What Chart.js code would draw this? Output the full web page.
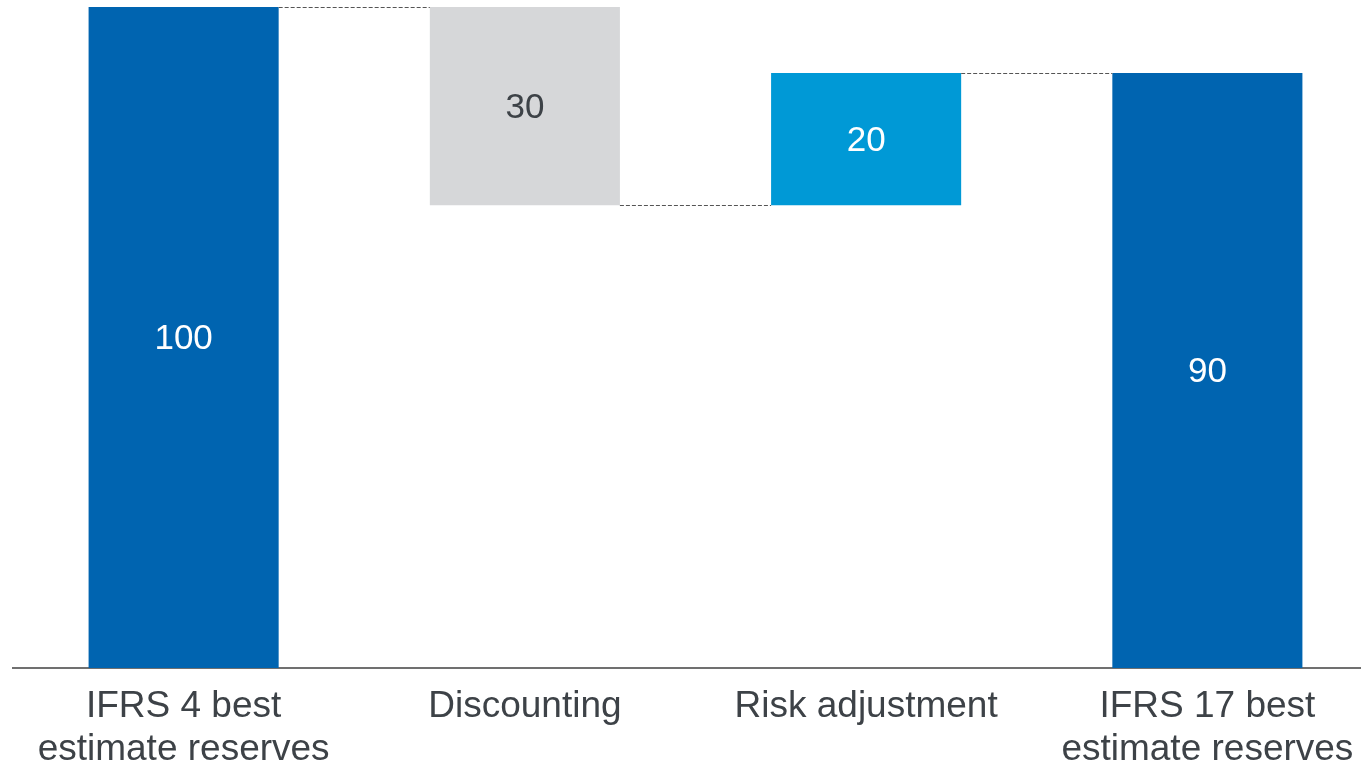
<!DOCTYPE html>
<html>
<head>
<meta charset="utf-8">
<script src="https://cdn.jsdelivr.net/npm/chart.js@4.4.1/dist/chart.umd.min.js"></script>
<style>
  html, body { margin: 0; padding: 0; background: #fff; overflow: hidden; }
  #wrap { position: relative; width: 1378px; height: 789px; }
</style>
</head>
<body>
<div id="wrap"><canvas id="c"></canvas></div>
<script>
// Waterfall: opening reserve, adjustments, closing reserve
const categories = [
  ['IFRS 4 best', 'estimate reserves'],
  ['Discounting'],
  ['Risk adjustment'],
  ['IFRS 17 best', 'estimate reserves']
];
const steps = [100, -30, 20, 90];          // first and last are totals
const isTotal = [true, false, false, true];
const barColors = ['#0064b0', '#d6d7d9', '#0099d6', '#0064b0'];
const labelColors = ['#ffffff', '#3d4247', '#ffffff', '#ffffff'];

// Build floating ranges and running levels
const ranges = [];
const levels = [];
let running = 0;
steps.forEach((v, i) => {
  if (isTotal[i]) {
    ranges.push([0, v]);
    running = v;
  } else {
    ranges.push([running, running + v]);
    running += v;
  }
  levels.push(running);
});

const FONT = "'Liberation Sans', Arial, sans-serif";

const valueLabels = {
  id: 'valueLabels',
  afterDatasetsDraw(chart) {
    const ctx = chart.ctx;
    const meta = chart.getDatasetMeta(0);
    ctx.save();
    ctx.font = '35px ' + FONT;
    ctx.textAlign = 'center';
    ctx.textBaseline = 'middle';
    meta.data.forEach((bar, i) => {
      const p = bar.getProps(['x', 'y', 'base'], true);
      ctx.fillStyle = labelColors[i];
      ctx.fillText(String(Math.abs(steps[i])), p.x, (p.y + p.base) / 2 + 2);
    });
    ctx.restore();
  }
};

const connectors = {
  id: 'connectors',
  afterDatasetsDraw(chart) {
    const ctx = chart.ctx;
    const meta = chart.getDatasetMeta(0);
    const y = chart.scales.y;
    ctx.save();
    ctx.strokeStyle = '#555555';
    ctx.lineWidth = 1;
    ctx.setLineDash([4, 2]);
    for (let i = 0; i < meta.data.length - 1; i++) {
      const a = meta.data[i].getProps(['x', 'width'], true);
      const b = meta.data[i + 1].getProps(['x', 'width'], true);
      const yy = Math.round(y.getPixelForValue(levels[i])) + 0.5;
      ctx.beginPath();
      ctx.moveTo(a.x + a.width / 2, yy);
      ctx.lineTo(b.x - b.width / 2, yy);
      ctx.stroke();
    }
    ctx.restore();
  }
};

new Chart(document.getElementById('c'), {
  type: 'bar',
  data: {
    labels: categories,
    datasets: [{
      data: ranges,
      backgroundColor: barColors,
      borderWidth: 0,
      borderSkipped: false,
      categoryPercentage: 1,
      barPercentage: 0.557
    }]
  },
  options: {
    responsive: true,
    maintainAspectRatio: false,
    animation: false,
    layout: { padding: { top: 7, left: 13, right: 0, bottom: 0 } },
    plugins: { legend: { display: false }, tooltip: { enabled: false } },
    scales: {
      x: {
        grid: { display: false, drawTicks: false },
        border: { display: true, color: '#707070', width: 2 },
        ticks: {
          color: '#3d4247',
          font: { family: FONT, size: 37, lineHeight: 1.15 },
          padding: 18,
          maxRotation: 0,
          autoSkip: false
        }
      },
      y: {
        display: false,
        min: 0,
        max: 100
      }
    }
  },
  plugins: [connectors, valueLabels]
});
</script>
</body>
</html>
